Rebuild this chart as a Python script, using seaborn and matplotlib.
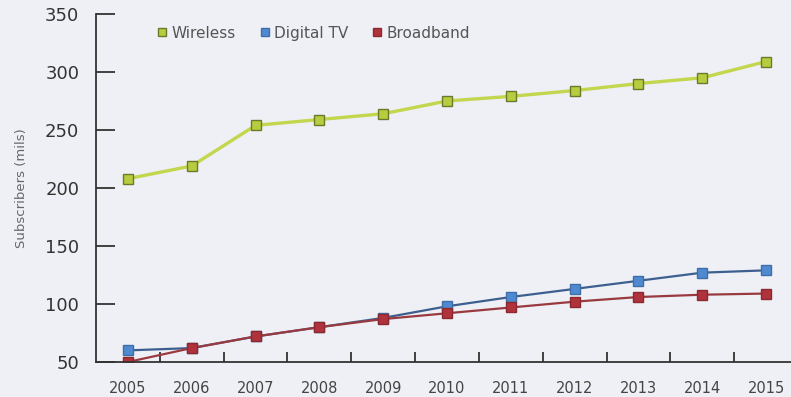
import pandas as pd
import numpy as np
import matplotlib
matplotlib.use('Agg')
import matplotlib.pyplot as plt
import seaborn as sns

years = ['2005', '2006', '2007', '2008', '2009', '2010', '2011', '2012', '2013', '2014', '2015']
wireless = [208, 219, 254, 259, 264, 275, 279, 284, 290, 295, 309]
digital_tv = [60, 62, 72, 80, 88, 98, 106, 113, 120, 127, 129]
broadband = [50, 62, 72, 80, 87, 92, 97, 102, 106, 108, 109]

sns.set_style('white')
plt.rcParams['font.family'] = ['DejaVu Sans']

bg = '#eef0f5'
fig = plt.figure(figsize=(7.91, 3.97), dpi=100, facecolor=bg)
ax = fig.add_axes([0.1214, 0.0882, 0.8875, 0.8766], facecolor=bg)

pos = np.arange(len(years))
series = [
    ('Wireless', wireless, '#c4d64e', '#b8cc40', '#6b7a2a', 2.4),
    ('Digital TV', digital_tv, '#3d5f8f', '#4f8ad0', '#3e6ea8', 1.6),
    ('Broadband', broadband, '#9a3a40', '#b0323c', '#8a2a30', 1.6),
]
for name, vals, lc, mfc, mec, lw in series:
    df = pd.DataFrame({'x': pos, 'y': vals})
    sns.lineplot(data=df, x='x', y='y', ax=ax, color=lc, lw=lw, marker='s',
                 markersize=6.5, markerfacecolor=mfc, markeredgecolor=mec,
                 markeredgewidth=1.0, label=name)

ax.set_xlim(-0.5, 10.5)
ax.set_ylim(50, 350)
ax.set_xticks(pos)
ax.set_xticklabels(years, fontsize=10.5, color='#444444')
ax.set_xticks(pos[:-1] + 0.5, minor=True)
ax.tick_params(axis='x', which='major', bottom=True, length=0, pad=14)
ax.tick_params(axis='x', which='minor', bottom=True, direction='in', length=7,
               width=1.3, color='#333333')
ax.set_yticks([50, 100, 150, 200, 250, 300, 350])
ax.tick_params(axis='y', left=True, direction='in', length=14, width=1.3, color='#333333',
               labelsize=13, labelcolor='#333333', pad=12)
for s in ['top', 'right']:
    ax.spines[s].set_visible(False)
for s in ['left', 'bottom']:
    ax.spines[s].set_color('#333333')
    ax.spines[s].set_linewidth(1.3)
ax.set_xlabel('')
ax.set_ylabel('Subscribers (mils)', fontsize=9.5, color='#666666', labelpad=12)

handles, labels = ax.get_legend_handles_labels()
leg = ax.legend(handles, labels, loc='center', bbox_to_anchor=(0.31, 0.945), ncol=3,
                frameon=False, fontsize=11, handlelength=0.6, handletextpad=0.3,
                columnspacing=1.6, labelcolor='#555555')
for h in leg.legend_handles:
    h.set_linestyle('none')
    h.set_markersize(6)

fig.savefig('out.png', dpi=100, facecolor=bg)
